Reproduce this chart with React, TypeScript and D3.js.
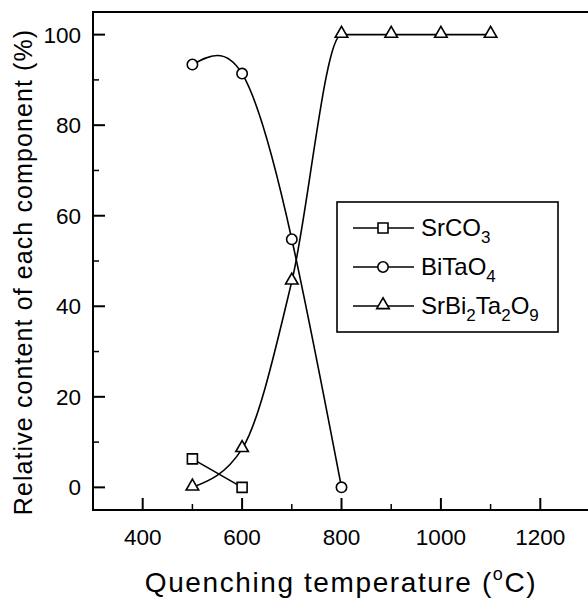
import React, { useEffect, useRef } from "react";
import * as d3 from "d3";

const temps = [500, 600, 700, 800, 900, 1000, 1100];
const srco3 = [6.3, 0];
const bitao4 = [93.4, 91.4, 54.8, 0];
const sbt = [0, 8.5, 45.5, 100, 100, 100, 100];
const xMajor = [400, 600, 800, 1000, 1200];
const xMinor = [500, 700, 900, 1100];
const yMajor = [0, 20, 40, 60, 80, 100];
const yMinor = [10, 30, 50, 70, 90];

const FONT = "'Liberation Sans', Arial, Helvetica, sans-serif";

const App = () => {
    const ref = useRef<SVGSVGElement>(null);

    useEffect(() => {
        const svg = d3.select(ref.current);
        svg.selectAll("*").remove();

        const left = 93, right = 590, top = 12, bottom = 510;
        const x = d3.scaleLinear().domain([300, 1300]).range([left, right]);
        const y = d3.scaleLinear().domain([-5, 105]).range([bottom, top]);

        // frame
        svg.append("rect")
            .attr("x", left).attr("y", top)
            .attr("width", right - left).attr("height", bottom - top)
            .attr("fill", "none").attr("stroke", "#000").attr("stroke-width", 2);

        // y ticks (inward)
        svg.append("g").selectAll("line").data(yMajor).join("line")
            .attr("x1", left).attr("x2", left + 12)
            .attr("y1", (d) => y(d)).attr("y2", (d) => y(d))
            .attr("stroke", "#000").attr("stroke-width", 2);
        svg.append("g").selectAll("line").data(yMinor).join("line")
            .attr("x1", left).attr("x2", left + 6)
            .attr("y1", (d) => y(d)).attr("y2", (d) => y(d))
            .attr("stroke", "#000").attr("stroke-width", 1.5);
        svg.append("g").selectAll("text").data(yMajor).join("text")
            .attr("x", left - 12).attr("y", (d) => y(d))
            .attr("dy", "0.36em")
            .attr("text-anchor", "end")
            .attr("font-family", FONT).attr("font-size", 22.5)
            .text((d) => d);

        // x ticks (inward)
        svg.append("g").selectAll("line").data(xMajor).join("line")
            .attr("x1", (d) => x(d)).attr("x2", (d) => x(d))
            .attr("y1", bottom).attr("y2", bottom - 12)
            .attr("stroke", "#000").attr("stroke-width", 2);
        svg.append("g").selectAll("line").data(xMinor).join("line")
            .attr("x1", (d) => x(d)).attr("x2", (d) => x(d))
            .attr("y1", bottom).attr("y2", bottom - 6)
            .attr("stroke", "#000").attr("stroke-width", 1.5);
        svg.append("g").selectAll("text").data(xMajor).join("text")
            .attr("x", (d) => x(d)).attr("y", bottom + 35)
            .attr("text-anchor", "middle")
            .attr("font-family", FONT).attr("font-size", 22.5)
            .text((d) => d);

        // axis titles
        const xt = svg.append("text")
            .attr("x", 341).attr("y", 592)
            .attr("text-anchor", "middle")
            .attr("letter-spacing", 1.6)
            .attr("font-family", FONT).attr("font-size", 28);
        xt.append("tspan").text("Quenching temperature (");
        xt.append("tspan").attr("font-size", 18).attr("dy", -12).text("o");
        xt.append("tspan").attr("dy", 12).text("C)");

        svg.append("text")
            .attr("transform", `translate(32,${272}) rotate(-90)`)
            .attr("text-anchor", "middle")
            .attr("letter-spacing", 1.1)
            .attr("font-family", FONT).attr("font-size", 25)
            .text("Relative content of each component (%)");

        // curves
        const pts = (vals: number[]) => vals.map((v, i) => [temps[i], v] as [number, number]);
        const line = (curve: d3.CurveFactory) => d3.line<[number, number]>()
            .x((d) => x(d[0])).y((d) => y(d[1])).curve(curve);

        const plot = svg.append("g").attr("fill", "none").attr("stroke", "#000").attr("stroke-width", 1.6);
        plot.append("path").attr("d", line(d3.curveLinear)(pts(srco3)));
        plot.append("path").attr("d", line(d3.curveNatural)(pts(bitao4)));
        plot.append("path").attr("d", line(d3.curveMonotoneX)(pts(sbt)));

        const square = d3.symbol().type(d3.symbolSquare).size(100);
        const circle = d3.symbol().type(d3.symbolCircle).size(85);
        const tri = d3.symbol().type(d3.symbolTriangle).size(68);

        const marks = (vals: number[], sym: d3.Symbol<any, any>, dy = 0) => {
            svg.append("g").selectAll("path").data(pts(vals)).join("path")
                .attr("transform", (d) => `translate(${x(d[0])},${y(d[1]) + dy})`)
                .attr("d", sym as any)
                .attr("fill", "#fff").attr("stroke", "#000").attr("stroke-width", 1.6);
        };
        marks(srco3, square);
        marks(bitao4, circle);
        marks(sbt, tri, -1);

        // legend
        const lg = svg.append("g");
        lg.append("rect")
            .attr("x", 337).attr("y", 202).attr("width", 221).attr("height", 130)
            .attr("fill", "#fff").attr("stroke", "#000").attr("stroke-width", 1.6);
        const entries: [string, string][][] = [
            [["SrCO", ""], ["3", "sub"]],
            [["BiTaO", ""], ["4", "sub"]],
            [["SrBi", ""], ["2", "sub"], ["Ta", ""], ["2", "sub"], ["O", ""], ["9", "sub"]],
        ];
        const syms = [square, circle, tri];
        entries.forEach((parts, i) => {
            const ly = 228 + i * 39;
            lg.append("line").attr("x1", 353).attr("x2", 414).attr("y1", ly).attr("y2", ly)
                .attr("stroke", "#000").attr("stroke-width", 1.6);
            lg.append("path").attr("transform", `translate(383,${ly + (i === 2 ? -1 : 0)})`)
                .attr("d", syms[i] as any)
                .attr("fill", "#fff").attr("stroke", "#000").attr("stroke-width", 1.6);
            const t = lg.append("text").attr("x", 421).attr("y", ly + 8)
                .attr("font-family", FONT).attr("font-size", 24);
            let sub = false;
            parts.forEach(([s, k]) => {
                const isSub = k === "sub";
                const ts = t.append("tspan").text(s);
                if (isSub) ts.attr("font-size", 17);
                if (isSub && !sub) ts.attr("dy", 7);
                if (!isSub && sub) ts.attr("dy", -7);
                sub = isSub;
            });
        });
    }, []);

    return (
        <svg ref={ref} width={588} height={600}
            style={{ position: "absolute", left: 0, top: 0, background: "#fff" }} />
    );
};

export default App;
